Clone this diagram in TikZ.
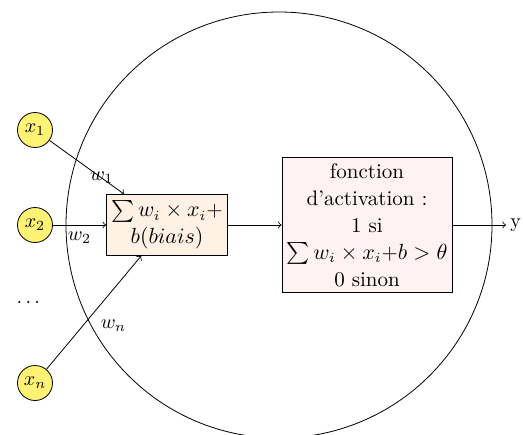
\documentclass[tikz,border=0pt]{standalone}
\usepackage{amsmath}
\usetikzlibrary{positioning}
\definecolor{jaune}{RGB}{255,242,117}
\begin{document}
\begin{tikzpicture}[x=0.5pt,y=-0.5pt,
    entree/.style={circle, draw, fill=jaune, minimum size=17.5pt, inner sep=0pt},
    boite/.style={draw, align=center, inner sep=2pt, font=\fontsize{10.5}{13.5}\selectfont}]
        \useasboundingbox (0,0) rectangle (523,434);
        % Neurone
        \node[circle, draw, minimum size=213pt, inner sep=0pt] (neurone) at (279,225) {};

        % Entrees
        \node[entree] (x1) at (35,130) {$x_1$};
        \node[entree] (x2) at (35,225) {$x_2$};
        \node (dots) at (30,302) {$\dots$};
        \node[entree] (xn) at (35,383) {$x_n$};

        % Somme et activation
        \node[boite, fill=orange!10, minimum width=60.5pt, minimum height=30.5pt] (somme) at (167,225) {$\sum w_i \times x_i$+\\$b(biais)$};
        \node[boite, fill=red!5, minimum width=85pt, minimum height=67.5pt] (activ) at (367,225) {fonction\\d'activation :\\1 si\\$\sum w_i \times x_i$+$b > \theta$\\0 sinon};
        \node[inner sep=2pt, anchor=west] (y) at (506,225) {y};

        % Poids
        \draw[->] (x1) -- node[pos=0.7, inner sep=1pt] {$w_1$} (somme);
        \draw[->] (x2) -- node[midway, below] {$w_2$} (somme);
        \draw[->] (xn) -- node[midway, below right] {$w_n$} (somme);

        \draw[->] (somme) -- (activ);
        \draw[->] (activ) -- (y);
    \end{tikzpicture}
\end{document}
